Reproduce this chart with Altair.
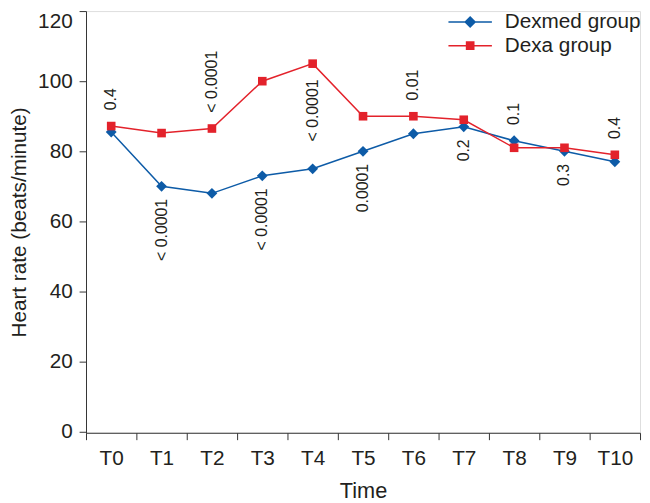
import altair as alt
import pandas as pd

# ---- data ----
times = ["T0", "T1", "T2", "T3", "T4", "T5", "T6", "T7", "T8", "T9", "T10"]
dexmed = [85.5, 70, 68, 73, 75, 80, 85, 87, 83, 80, 77]
dexa = [87.2, 85.2, 86.5, 100, 105, 90, 90, 89, 81, 81, 79]
p_labels = ["0.4", "< 0.0001", "< 0.0001", "< 0.0001", "< 0.0001", "0.0001",
            "0.01", "0.2", "0.1", "0.3", "0.4"]
p_side = ["above", "below", "above", "below", "mid", "below",
          "above", "below", "above", "below", "above"]
groups = ["Dexmed group", "Dexa group"]
colors = ["#0d5ba7", "#e3222b"]

FONT = "Liberation Sans"
INK = "#231f20"

# ---- tables ----
long_df = pd.DataFrame({
    "time": times * 2,
    "group": [groups[0]] * len(times) + [groups[1]] * len(times),
    "value": dexmed + dexa,
})

lab_y = []
for a, b, s in zip(dexmed, dexa, p_side):
    if s == "above":
        lab_y.append(max(a, b) + 4.5)
    elif s == "below":
        lab_y.append(min(a, b) - 3.6)
    else:
        lab_y.append(a + 7.8)
lab_df = pd.DataFrame({
    "time": times, "label": p_labels, "y": lab_y,
    "side": ["up" if s != "below" else "down" for s in p_side],
})

# ---- scales / encodings ----
x_enc = alt.X(
    "time:N",
    sort=times,
    scale=alt.Scale(type="band", domain=times, paddingInner=0, paddingOuter=0),
    axis=alt.Axis(
        title="Time", tickBand="extent", labelAngle=0, grid=False,
        labelFont=FONT, labelFontSize=21, labelColor=INK, labelPadding=8,
        titleFont=FONT, titleFontSize=22, titleFontWeight="normal", titleColor=INK,
        titlePadding=13, tickSize=7, tickColor="#333333", domainColor="#333333",
    ),
)
y_scale = alt.Scale(domain=[-0.3, 120], nice=False, zero=False)
y_axis = alt.Axis(
    title="Heart rate (beats/minute)", values=[0, 20, 40, 60, 80, 100, 120],
    grid=False, labelFlush=0.5,
    labelFont=FONT, labelFontSize=21, labelColor=INK, labelPadding=7,
    titleFont=FONT, titleFontSize=21, titleFontWeight="normal", titleColor=INK,
    titlePadding=8, tickSize=7, tickColor="#333333", domainColor="#333333",
)
y_enc = alt.Y("value:Q", scale=y_scale, axis=y_axis)

base = alt.Chart(long_df)

line_m = base.transform_filter(alt.datum.group == groups[0]).mark_line(
    color=colors[0], strokeWidth=1.5).encode(x=x_enc, y=y_enc)
line_d = base.transform_filter(alt.datum.group == groups[1]).mark_line(
    color=colors[1], strokeWidth=1.5).encode(x=x_enc, y=y_enc)
pt_m = base.transform_filter(alt.datum.group == groups[0]).mark_point(
    shape="diamond", filled=True, size=120, color=colors[0], opacity=1).encode(x=x_enc, y=y_enc)
pt_d = base.transform_filter(alt.datum.group == groups[1]).mark_point(
    shape="square", filled=True, size=76, color=colors[1], opacity=1).encode(x=x_enc, y=y_enc)

# legend-only layer (no marks drawn), symbols = line + marker
diamond_path = "M-2,-0.07L2,-0.07L2,0.07L-2,0.07Z M0,-0.55L0.55,0L0,0.55L-0.55,0Z"
square_path = "M-2,-0.07L2,-0.07L2,0.07L-2,0.07Z M-0.4,-0.4L0.4,-0.4L0.4,0.4L-0.4,0.4Z"
leg = alt.Legend(
    title=None, orient="none", legendX=378, legendY=0, padding=0,
    labelFont=FONT, labelFontSize=21, labelColor=INK, labelOffset=24,
    symbolSize=484, symbolStrokeWidth=0, rowPadding=3,
)
legend_layer = base.transform_filter("false").mark_point(filled=True, opacity=1).encode(
    x=x_enc, y=y_enc,
    color=alt.Color("group:N", scale=alt.Scale(domain=groups, range=colors), legend=leg),
    shape=alt.Shape("group:N", scale=alt.Scale(domain=groups, range=[diamond_path, square_path]), legend=leg),
)

lab_base = alt.Chart(lab_df)
txt_up = lab_base.transform_filter(alt.datum.side == "up").mark_text(
    angle=270, align="left", baseline="middle", font=FONT, fontSize=16, color=INK
).encode(x=x_enc, y=alt.Y("y:Q", scale=y_scale, axis=y_axis), text="label:N")
txt_dn = lab_base.transform_filter(alt.datum.side == "down").mark_text(
    angle=270, align="right", baseline="middle", font=FONT, fontSize=16, color=INK
).encode(x=x_enc, y=alt.Y("y:Q", scale=y_scale, axis=y_axis), text="label:N")

chart = alt.layer(line_m, line_d, pt_m, pt_d, txt_up, txt_dn, legend_layer).properties(
    width=561, height=427,
    autosize=alt.AutoSizeParams(type="none"),
    padding={"left": 79, "top": 0, "right": 2, "bottom": 68},
).configure_view(stroke=None).configure(background="white")

chart.save("out.html", embed_options={"renderer": "svg", "actions": False})
